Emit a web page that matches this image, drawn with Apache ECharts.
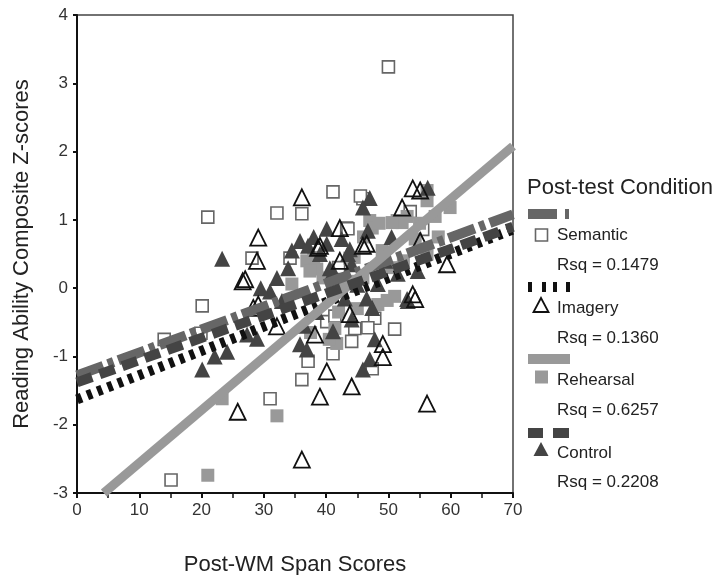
<!DOCTYPE html>
<html>
<head>
<meta charset="utf-8">
<script src="https://cdn.jsdelivr.net/npm/echarts@6/dist/echarts.min.js"></script>
<style>
  html, body { margin: 0; padding: 0; background: #fff; }
  #chart { width: 713px; height: 575px; }
</style>
</head>
<body>
<div id="chart"></div>
<script>
// scatter points [span score, z-score] per post-test condition
const semanticPts = [
  [50, 3.24], [21, 1.04], [41.1, 1.41], [32.1, 1.10], [36.1, 1.09], [45.9, 1.31],
  [28.1, 0.44], [34.2, 0.44], [43.3, 0.88], [53.5, 1.12], [20.1, -0.26], [14.0, -0.75],
  [19.9, -0.66], [15.1, -2.81], [36.1, -1.34], [31.0, -1.62], [37.1, -1.07], [41.1, -0.96],
  [44.1, -0.78], [40.1, -0.49], [41.4, -0.41], [44.6, -0.59], [51.0, -0.60], [47.8, -0.44],
  [47.4, -1.18], [46.7, -0.58], [43.5, 0.87], [45.5, 1.35], [55.5, 0.86], [42.0, 0.30]
]
const imageryPts = [
  [29.1, 0.74], [36.1, 1.33], [27.0, 0.13], [28.9, 0.40], [42.2, 0.88], [39.0, 0.62],
  [45.9, 0.62], [52.2, 1.18], [53.9, 1.46], [55.1, 1.43], [55.1, 0.69], [59.4, 0.35],
  [53.9, -0.09], [42.2, 0.40], [38.7, 0.59], [25.8, -1.81], [28.3, -0.29], [26.6, 0.10],
  [29.1, -0.24], [38.2, -0.68], [40.1, -1.22], [39.0, -1.59], [44.1, -1.44], [32.1, -0.56],
  [43.8, -0.38], [36.1, -2.51], [56.2, -1.69], [49.1, -0.82], [49.1, -1.01], [54.3, -0.16],
  [46.5, 0.65]
]
const rehearsalPts = [
  [21.0, -2.74], [32.1, -1.87], [23.3, -1.62], [56.2, 1.43], [56.2, 1.28], [47.0, 0.99],
  [51.4, 0.99], [59.9, 1.18], [52.2, 0.96], [50.6, 0.96], [54.3, 0.72], [47.4, 0.88],
  [52.4, 0.40], [56.2, 0.50], [36.9, 0.40], [38.5, 0.28], [43.8, 0.44], [45.9, 0.15],
  [37.4, 0.25], [34.5, 0.06], [41.7, -0.81], [41.4, -0.59], [51.0, -0.12], [48.3, -0.24],
  [49.8, -0.18], [58.0, 0.75], [44.5, 0.10], [38.0, 0.45], [39.5, 0.15], [42.5, 0.05],
  [44.5, 0.45], [46.0, 0.75], [49.0, 0.55], [50.5, 0.30], [53.0, 1.05], [57.5, 1.05],
  [40.5, -0.75], [42.0, -0.35], [45.0, -0.30], [37.5, -0.65], [48.5, 0.95], [55.0, 0.95]
]
const controlPts = [
  [23.3, 0.43], [20.1, -1.19], [22.1, -1.00], [24.1, -0.93], [32.1, 0.15], [33.9, 0.29],
  [35.8, 0.69], [37.1, 0.62], [39.0, 0.50], [40.1, 0.87], [43.8, 0.57], [47.0, 1.32],
  [45.9, 1.18], [46.7, 0.84], [40.6, 0.29], [44.1, 0.35], [40.1, 0.65], [43.5, 0.50],
  [41.1, 0.25], [54.7, 0.25], [51.5, 0.21], [48.3, 0.06], [56.3, 1.47], [41.1, -0.63],
  [44.1, -0.46], [47.4, -0.29], [47.8, -0.75], [47.0, -1.04], [45.9, -1.19], [53.0, -0.16],
  [35.8, -0.82], [36.9, -0.90], [28.9, -0.74], [32.9, -0.19], [27.3, -0.68], [46.5, -0.15],
  [53.1, -0.19], [34.5, 0.55], [38.0, 0.75], [42.5, 0.72], [45.0, 0.05], [49.5, 0.40],
  [50.5, 0.75], [36.5, -0.55], [38.5, -0.35], [43.0, -0.15], [31.0, -0.05], [29.5, 0.00]
]

// fitted regression lines (end points)
const semanticFit = [[0, -1.28], [70, 1.08]]
const imageryFit = [[0, -1.63], [70, 0.86]]
const rehearsalFit = [[4.3, -3], [70, 2.08]]
const controlFit = [[0, -1.38], [70, 0.90]]

const conditions = ['Semantic', 'Imagery', 'Rehearsal', 'Control']
const rsqLabels = ['Rsq = 0.1479', 'Rsq = 0.1360', 'Rsq = 0.6257', 'Rsq = 0.2208']

const font = 'Liberation Sans, Arial, sans-serif'
const chart = echarts.init(document.getElementById('chart'))

const fitLine = (name, data, color, width, dash) => ({
  name: name + ' fit',
  type: 'line',
  data,
  symbol: 'none',
  silent: true,
  z: 5,
  lineStyle: { color, width, type: dash, cap: 'butt' },
})

// legend drawn by hand: line sample, marker + name, Rsq text
const lineY = [214, 287, 359, 433]
const markerY = [235, 305, 377, 449]
const nameY = [235, 308, 380, 453]
const rsqY = [265, 338, 410, 482]
const lineSamples = [
  [[528, 29, '#666'], [565, 4, '#666']],
  [[528, 4, '#111'], [542, 4, '#111'], [553, 4, '#111'], [566, 4, '#111']],
  [[528, 42, '#999']],
  [[528, 15, '#444'], [553, 16, '#444']],
]
const textStyle = (text, x, y, size) => ({
  type: 'text',
  style: { text, x, y, font: size + 'px ' + font, fill: '#222', verticalAlign: 'middle' },
})
const legendGraphics = [textStyle('Post-test Condition', 527, 188, 22)]
lineSamples.forEach((parts, i) => {
  parts.forEach(([x, w, c]) => {
    legendGraphics.push({ type: 'rect', shape: { x, y: lineY[i] - 5, width: w, height: 10 }, style: { fill: c } })
  })
  const my = markerY[i]
  if (i === 0) {
    legendGraphics.push({ type: 'rect', shape: { x: 535.5, y: my - 6, width: 12, height: 12 }, style: { fill: '#fff', stroke: '#666', lineWidth: 1.6 } })
  } else if (i === 1) {
    legendGraphics.push({ type: 'polygon', shape: { points: [[541, my - 7], [533.5, my + 7], [548.5, my + 7]] }, style: { fill: '#fff', stroke: '#111', lineWidth: 1.8 } })
  } else if (i === 2) {
    legendGraphics.push({ type: 'rect', shape: { x: 535, y: my - 6.5, width: 13, height: 13 }, style: { fill: '#999' } })
  } else {
    legendGraphics.push({ type: 'polygon', shape: { points: [[541, my - 7], [533.5, my + 7], [548.5, my + 7]] }, style: { fill: '#444' } })
  }
  legendGraphics.push(textStyle(conditions[i], 557, nameY[i], 17))
  legendGraphics.push(textStyle(rsqLabels[i], 557, rsqY[i], 17))
})

const option = {
  animation: false,
  backgroundColor: '#fff',
  grid: {
    left: 77,
    right: 200,
    top: 15,
    bottom: 82,
    outerBoundsMode: 'none',
    containLabel: false,
    show: true,
    borderColor: '#444',
    borderWidth: 1.5,
  },
  xAxis: {
    type: 'value',
    min: 0,
    max: 70,
    interval: 10,
    name: 'Post-WM Span Scores',
    nameLocation: 'middle',
    nameGap: 61,
    nameTextStyle: { fontFamily: font, fontSize: 22, color: '#222' },
    axisLine: { onZero: false, lineStyle: { color: '#111', width: 2 } },
    axisTick: { show: true, length: 5, lineStyle: { color: '#111', width: 2 } },
    minorTick: { show: true, splitNumber: 2, length: 5, lineStyle: { color: '#111', width: 1.5 } },
    axisLabel: { fontFamily: font, fontSize: 17, color: '#333', margin: 9 },
    splitLine: { show: false },
  },
  yAxis: {
    type: 'value',
    min: -3,
    max: 4,
    interval: 1,
    name: 'Reading Ability Composite Z-scores',
    nameLocation: 'middle',
    nameGap: 44,
    nameTextStyle: { fontFamily: font, fontSize: 22, color: '#222' },
    axisLine: { onZero: false, lineStyle: { color: '#111', width: 2 } },
    axisTick: { show: true, length: 4, lineStyle: { color: '#111', width: 2 } },
    axisLabel: { fontFamily: font, fontSize: 17, color: '#333', margin: 9 },
    splitLine: { show: false },
  },
  graphic: legendGraphics,
  series: [
    {
      name: 'Semantic',
      type: 'scatter',
      data: semanticPts,
      symbol: 'rect',
      symbolSize: 12,
      itemStyle: { color: '#fff', borderColor: '#666', borderWidth: 1.6, opacity: 1 },
      z: 2,
    },
    {
      name: 'Imagery',
      type: 'scatter',
      data: imageryPts,
      symbol: 'triangle',
      symbolSize: 16,
      itemStyle: { color: 'rgba(255,255,255,0)', borderColor: '#111', borderWidth: 1.8, opacity: 1 },
      z: 4,
    },
    {
      name: 'Rehearsal',
      type: 'scatter',
      data: rehearsalPts,
      symbol: 'rect',
      symbolSize: 13,
      itemStyle: { color: '#999', opacity: 1 },
      z: 2,
    },
    {
      name: 'Control',
      type: 'scatter',
      data: controlPts,
      symbol: 'triangle',
      symbolSize: 16,
      itemStyle: { color: '#444', opacity: 1 },
      z: 3,
    },
    fitLine('Semantic', semanticFit, '#666', 10, [28, 5, 6, 5]),
    fitLine('Imagery', imageryFit, '#111', 10, [5, 6]),
    fitLine('Rehearsal', rehearsalFit, '#999', 9, 'solid'),
    fitLine('Control', controlFit, '#444', 10, [16, 8]),
  ],
}

chart.setOption(option)
</script>
</body>
</html>
